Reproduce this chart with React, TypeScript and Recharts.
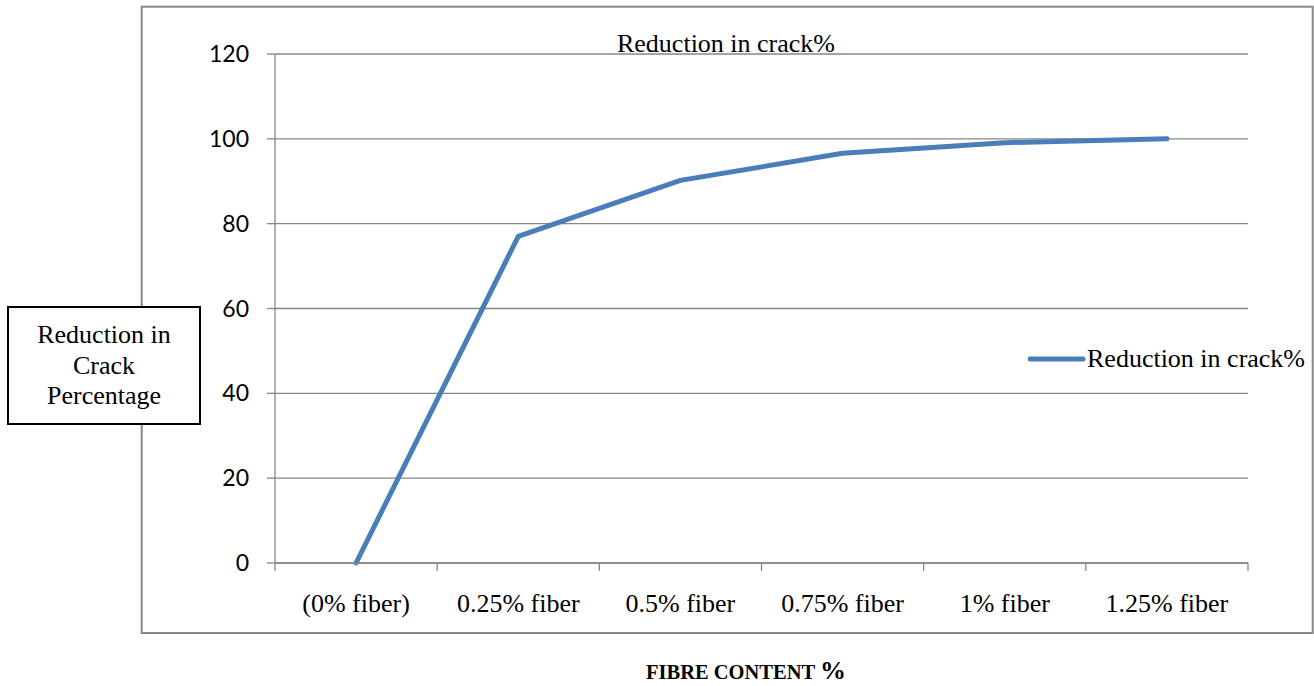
import React from 'react';
import { LineChart, Line, XAxis, YAxis, CartesianGrid, Legend } from 'recharts';

const categories = ['(0% fiber)', '0.25% fiber', '0.5% fiber', '0.75% fiber', '1% fiber', '1.25% fiber'];
const reductionValues = [0, 77, 90.2, 96.6, 99.1, 100];
const yTicks = [0, 20, 40, 60, 80, 100, 120];
const seriesName = 'Reduction in crack%';
const chartTitle = 'Reduction in crack%';
const yLabelLines = ['Reduction in', 'Crack', 'Percentage'];
const xTitleMain = 'FIBRE CONTENT';
const xTitlePct = '%';

const data = categories.map((c, i) => ({ category: c, value: reductionValues[i] }));

const GRAY = '#878787';
const BLUE = '#4a7ebb';
const SERIF = '"Liberation Serif", "Times New Roman", serif';

const XTick = (props: any) => {
  const { x, y, payload, index } = props;
  const off = (payload && payload.offset) || 0;
  const last = index === categories.length - 1;
  return (
    <g>
      <line x1={x - off} x2={x - off} y1={y} y2={y + 8} stroke={GRAY} strokeWidth={1.3} />
      {last && <line x1={x + off} x2={x + off} y1={y} y2={y + 8} stroke={GRAY} strokeWidth={1.3} />}
      <text x={x} y={y + 49} textAnchor="middle" fontFamily={SERIF} fontSize={26} fill="#000">
        {payload.value}
      </text>
    </g>
  );
};

const LegendContent = (props: any) => {
  const { payload } = props;
  return (
    <div>
      {(payload || []).map((p: any, i: number) => (
        <div key={i} style={{ display: 'flex', alignItems: 'center', height: 30 }}>
          <svg width={59} height={10} style={{ display: 'block' }}>
            <line x1={2} x2={55} y1={5} y2={5} stroke={p.color} strokeWidth={5} strokeLinecap="round" />
          </svg>
          <span style={{ fontFamily: SERIF, fontSize: 26, color: '#000', lineHeight: '30px', whiteSpace: 'nowrap' }}>
            {p.value}
          </span>
        </div>
      ))}
    </div>
  );
};

export default function App() {
  return (
    <div style={{ position: 'absolute', left: 0, top: 0, width: 1314, height: 686, background: '#fff', overflow: 'hidden' }}>
      <svg width={1314} height={686} style={{ position: 'absolute', left: 0, top: 0 }}>
        <rect x={141.7} y={6.7} width={1171} height={626.3} fill="none" stroke={GRAY} strokeWidth={2} />
        <text x={726} y={52} textAnchor="middle" fontFamily={SERIF} fontSize={26} fill="#000">
          {chartTitle}
        </text>
        <rect x={8} y={307} width={192} height={117} fill="#fff" stroke="#000" strokeWidth={2} />
        {yLabelLines.map((t, i) => (
          <text key={i} x={104} y={343 + i * 30.5} textAnchor="middle" fontFamily={SERIF} fontSize={26} fill="#000">
            {t}
          </text>
        ))}
        <text x={746} y={679} textAnchor="middle" fontFamily={SERIF} fontWeight="bold" fill="#000">
          <tspan fontSize={20.5}>{xTitleMain} </tspan>
          <tspan fontSize={26}>{xTitlePct}</tspan>
        </text>
      </svg>
      <div style={{ position: 'absolute', left: 0, top: 0 }}>
        <LineChart
          width={1314}
          height={686}
          data={data}
          margin={{ top: 54, right: 66, bottom: 63, left: 195 }}
        >
          <CartesianGrid vertical={false} stroke={GRAY} strokeWidth={1.3} />
          <XAxis
            dataKey="category"
            scale="band"
            interval={0}
            height={60}
            tickLine={false}
            tickSize={0}
            tickMargin={0}
            axisLine={{ stroke: GRAY, strokeWidth: 1.3 }}
            tick={<XTick />}
          />
          <YAxis
            domain={[0, 120]}
            ticks={yTicks}
            interval={0}
            width={80}
            axisLine={{ stroke: GRAY, strokeWidth: 1.3 }}
            tickLine={{ stroke: GRAY, strokeWidth: 1.3 }}
            tickSize={8}
            tickMargin={18}
            tick={{ fontFamily: 'Lato', fontSize: 23, fill: '#000' }}
          />
          <Legend
            layout="vertical"
            align="center"
            verticalAlign="middle"
            content={<LegendContent />}
            wrapperStyle={{ left: 1028, top: 344, width: 290, height: 30 }}
          />
          <Line
            type="linear"
            dataKey="value"
            name={seriesName}
            stroke={BLUE}
            strokeWidth={5}
            strokeLinecap="round"
            strokeLinejoin="round"
            dot={false}
            activeDot={false}
            isAnimationActive={false}
          />
        </LineChart>
      </div>
    </div>
  );
}
